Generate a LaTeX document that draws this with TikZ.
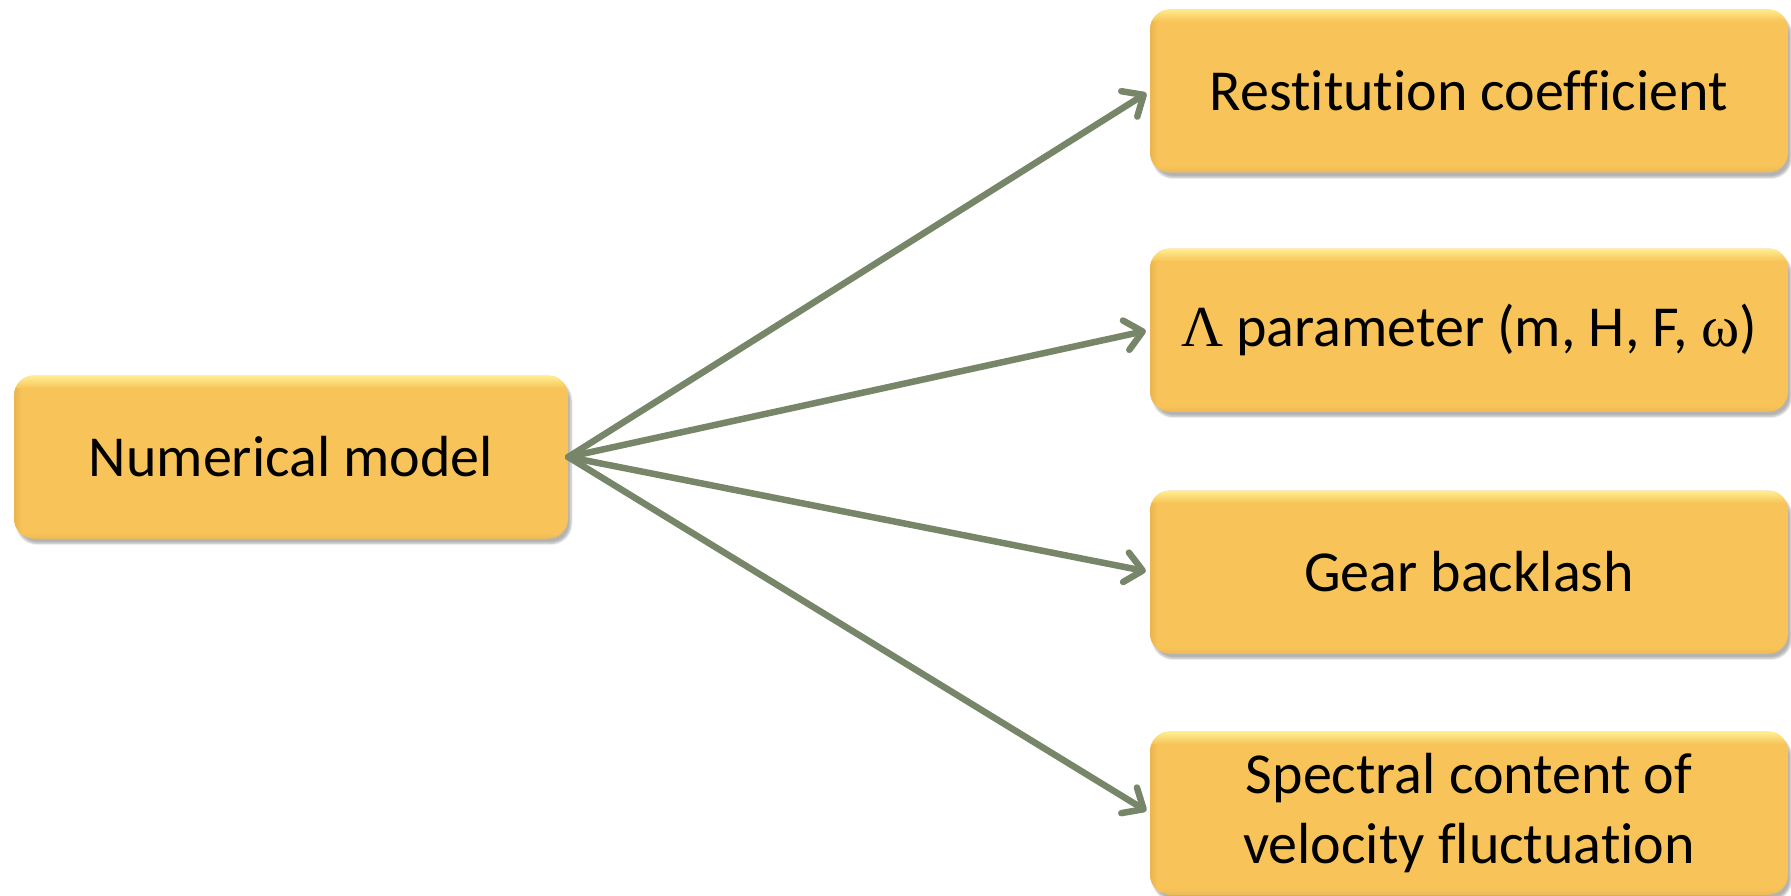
\documentclass[tikz,border=0pt]{standalone}
\usepackage{fontspec}
\setmainfont{Carlito}[Ligatures=NoCommon]
\newfontfamily\grk{Liberation Serif}
\usetikzlibrary{arrows.meta,shadows.blur}
\definecolor{boxfill}{HTML}{F8C45A}
\definecolor{boxtop}{HTML}{FFF294}
\definecolor{boxedge}{HTML}{E2AA44}
\definecolor{arrowcol}{HTML}{778568}
\tikzset{
  gbox/.style={rounded corners=20pt, fill=boxfill, draw=none,
    minimum width=#1, minimum height=163pt, align=center, inner sep=0pt,
    font=\fontsize{58}{70}\selectfont,
    blur shadow={shadow xshift=3pt, shadow yshift=-5pt, shadow blur steps=6, shadow opacity=30},
    path picture={
      \foreach \i [evaluate=\i as \pc using {int(90*(1-\i/12))}] in {0,...,11} {
        \fill[sharp corners, fill=boxtop!\pc!boxfill]
          ([yshift={-\i*1pt}]path picture bounding box.north west) rectangle ([yshift={-(\i+1.2)*1pt}]path picture bounding box.north east);
      }
      \foreach \i [evaluate=\i as \pc using {int(60*(1-\i/8))}] in {0,...,7} {
        \fill[sharp corners, fill=boxedge!\pc!boxfill]
          ([xshift={\i*1pt},yshift=-12pt]path picture bounding box.north west) rectangle ([xshift={(\i+1.2)*1pt}]path picture bounding box.south west);
      }
      \foreach \i [evaluate=\i as \pc using {int(35*(1-\i/6))}] in {0,...,5} {
        \fill[sharp corners, fill=boxedge!\pc!boxfill]
          ([yshift={\i*1pt},xshift=8pt]path picture bounding box.south west) rectangle ([yshift={(\i+1.2)*1pt}]path picture bounding box.south east);
      }
    }},
  conn/.style={draw=arrowcol, line width=6.5pt, line cap=round,
    -{Straight Barb[length=17pt,width=30pt,line cap=round,line join=round]}, shorten >=4pt}
}
\begin{document}
\begin{tikzpicture}[x=1pt,y=-1pt]
\useasboundingbox (0,0) rectangle (1791,896);
\node[gbox=554pt] (nm) at (291,457) {Numerical model};
\node[gbox=638pt] (rc) at (1469,91) {Restitution coefficient};
\node[gbox=638pt] (lp) at (1469,330) {{\grk Λ} parameter (m, H, F, {\grk ω})};
\node[gbox=638pt] (gb) at (1469,572) {Gear backlash};
\node[gbox=638pt] (sc) at (1469,813) {Spectral content of\\velocity fluctuation};
\draw[conn] (nm.east) -- (rc.west);
\draw[conn] (nm.east) -- (lp.west);
\draw[conn] (nm.east) -- (gb.west);
\draw[conn] (nm.east) -- (sc.west);
\end{tikzpicture}
\end{document}
